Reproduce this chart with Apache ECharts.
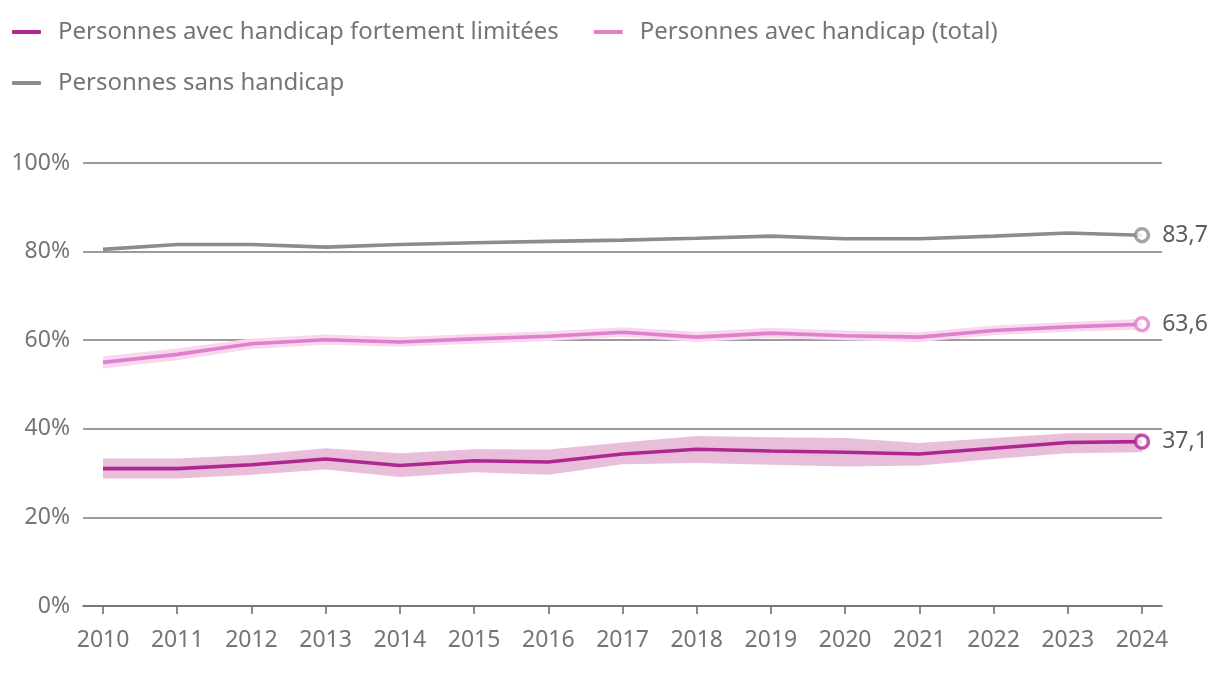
<!DOCTYPE html>
<html><head><meta charset="utf-8">
<script src="https://cdn.jsdelivr.net/npm/echarts@6/dist/echarts.min.js"></script>
<style>html,body{margin:0;padding:0;background:#fff}#c{width:1220px;height:674px}</style>
</head><body><div id="c"></div>
<script>
const years = [2010,2011,2012,2013,2014,2015,2016,2017,2018,2019,2020,2021,2022,2023,2024];
const yTicks = [0,20,40,60,80,100];
const nameStrong = 'Personnes avec handicap fortement limitées';
const nameTotal = 'Personnes avec handicap (total)';
const nameNone = 'Personnes sans handicap';
const strong = [31.0,31.0,31.9,33.2,31.7,32.8,32.5,34.3,35.4,35.0,34.7,34.3,35.6,36.9,37.1];
const strongLow = [28.8,28.8,29.6,30.8,29.1,30.2,29.6,32.0,32.3,31.9,31.5,31.7,33.2,34.5,34.7];
const strongHigh = [33.3,33.3,34.1,35.6,34.5,35.4,35.3,36.9,38.4,38.1,37.9,36.8,37.9,39.0,39.0];
const total = [55.0,56.8,59.2,60.1,59.6,60.3,60.9,61.8,60.7,61.6,61.0,60.7,62.2,63.0,63.6];
const totalLow = [53.6,55.5,58.0,59.0,58.5,59.2,59.8,60.7,59.6,60.5,60.0,59.6,61.1,61.9,62.4];
const totalHigh = [56.4,58.1,60.4,61.3,60.7,61.4,62.0,62.9,61.9,62.8,62.2,61.8,63.3,64.1,64.8];
const none = [80.5,81.6,81.6,81.0,81.6,82.0,82.3,82.6,83.0,83.5,82.9,82.9,83.5,84.2,83.7];

const cStrong = '#b0288f', cTotal = '#e07fcb', cNone = '#8c8c8c';
const bStrong = '#e8bedb', bTotal = '#f8d8ef';
const font = 'Noto Sans';
const pairs = (arr) => years.map((y,i)=>[y, arr[i]]);

function band(lo, hi, color){
  return {type:'custom', silent:true, z:1, data:[[years[0], lo[0]]],
    renderItem:function(params, api){
      const pts = [];
      for(let i=0;i<years.length;i++) pts.push(api.coord([years[i], hi[i]]));
      for(let i=years.length-1;i>=0;i--) pts.push(api.coord([years[i], lo[i]]));
      return {type:'polygon', shape:{points:pts}, style:{fill:color, stroke:null}};
    }};
}
function mainLine(name, arr, color){
  return {type:'line', name:name, data:pairs(arr), symbol:'none', lineStyle:{color:color, width:3.6}, itemStyle:{color:color}, z:3};
}
function endPoint(arr, color){
  const last = arr.length-1;
  return {type:'scatter', data:[[years[last], arr[last]]], symbol:'circle', symbolSize:13,
    itemStyle:{color:'#fff', borderColor:color, borderWidth:3.5}, z:5,
    label:{show:true, position:'right', distance:12, color:'#333', fontFamily:font, fontSize:23,
      formatter:(p)=>p.value[1].toFixed(1).replace('.', ',')}};
}

const chart = echarts.init(document.getElementById('c'));
chart.setOption({
  animation:false,
  textStyle:{fontFamily:font},
  legend:[
    {left:7, top:15, itemWidth:29, itemHeight:4, itemGap:35, icon:'roundRect', data:[nameStrong, nameTotal],
     textStyle:{fontFamily:font, fontSize:24, color:'#757575', padding:[0,0,0,12]}},
    {left:7, top:66, itemWidth:29, itemHeight:4, icon:'roundRect', data:[nameNone],
     textStyle:{fontFamily:font, fontSize:24, color:'#757575', padding:[0,0,0,12]}}
  ],
  grid:{left:83, right:58, top:163, bottom:68},
  xAxis:{type:'value', min:2009.73, max:2024.27,
    axisLine:{show:true, lineStyle:{color:'#6e6e6e', width:1.6}},
    axisTick:{show:true, customValues:years, length:8, lineStyle:{color:'#6e6e6e', width:1.6}},
    axisLabel:{customValues:years, margin:23, color:'#757575', fontSize:23, fontFamily:font, formatter:(v)=>String(v)},
    splitLine:{show:false}},
  yAxis:{type:'value', min:0, max:100, interval:20,
    axisLine:{show:false}, axisTick:{show:false},
    axisLabel:{margin:13, color:'#757575', fontSize:23, fontFamily:font, formatter:(v)=>yTicks.includes(v)? v+'%' : ''},
    splitLine:{lineStyle:{color:'#7a7a7a', width:1.5}}},
  series:[
    band(strongLow, strongHigh, bStrong),
    band(totalLow, totalHigh, bTotal),
    mainLine(nameNone, none, cNone),
    mainLine(nameTotal, total, cTotal),
    mainLine(nameStrong, strong, cStrong),
    endPoint(none, cNone),
    endPoint(total, cTotal),
    endPoint(strong, cStrong)
  ]
});
</script></body></html>
